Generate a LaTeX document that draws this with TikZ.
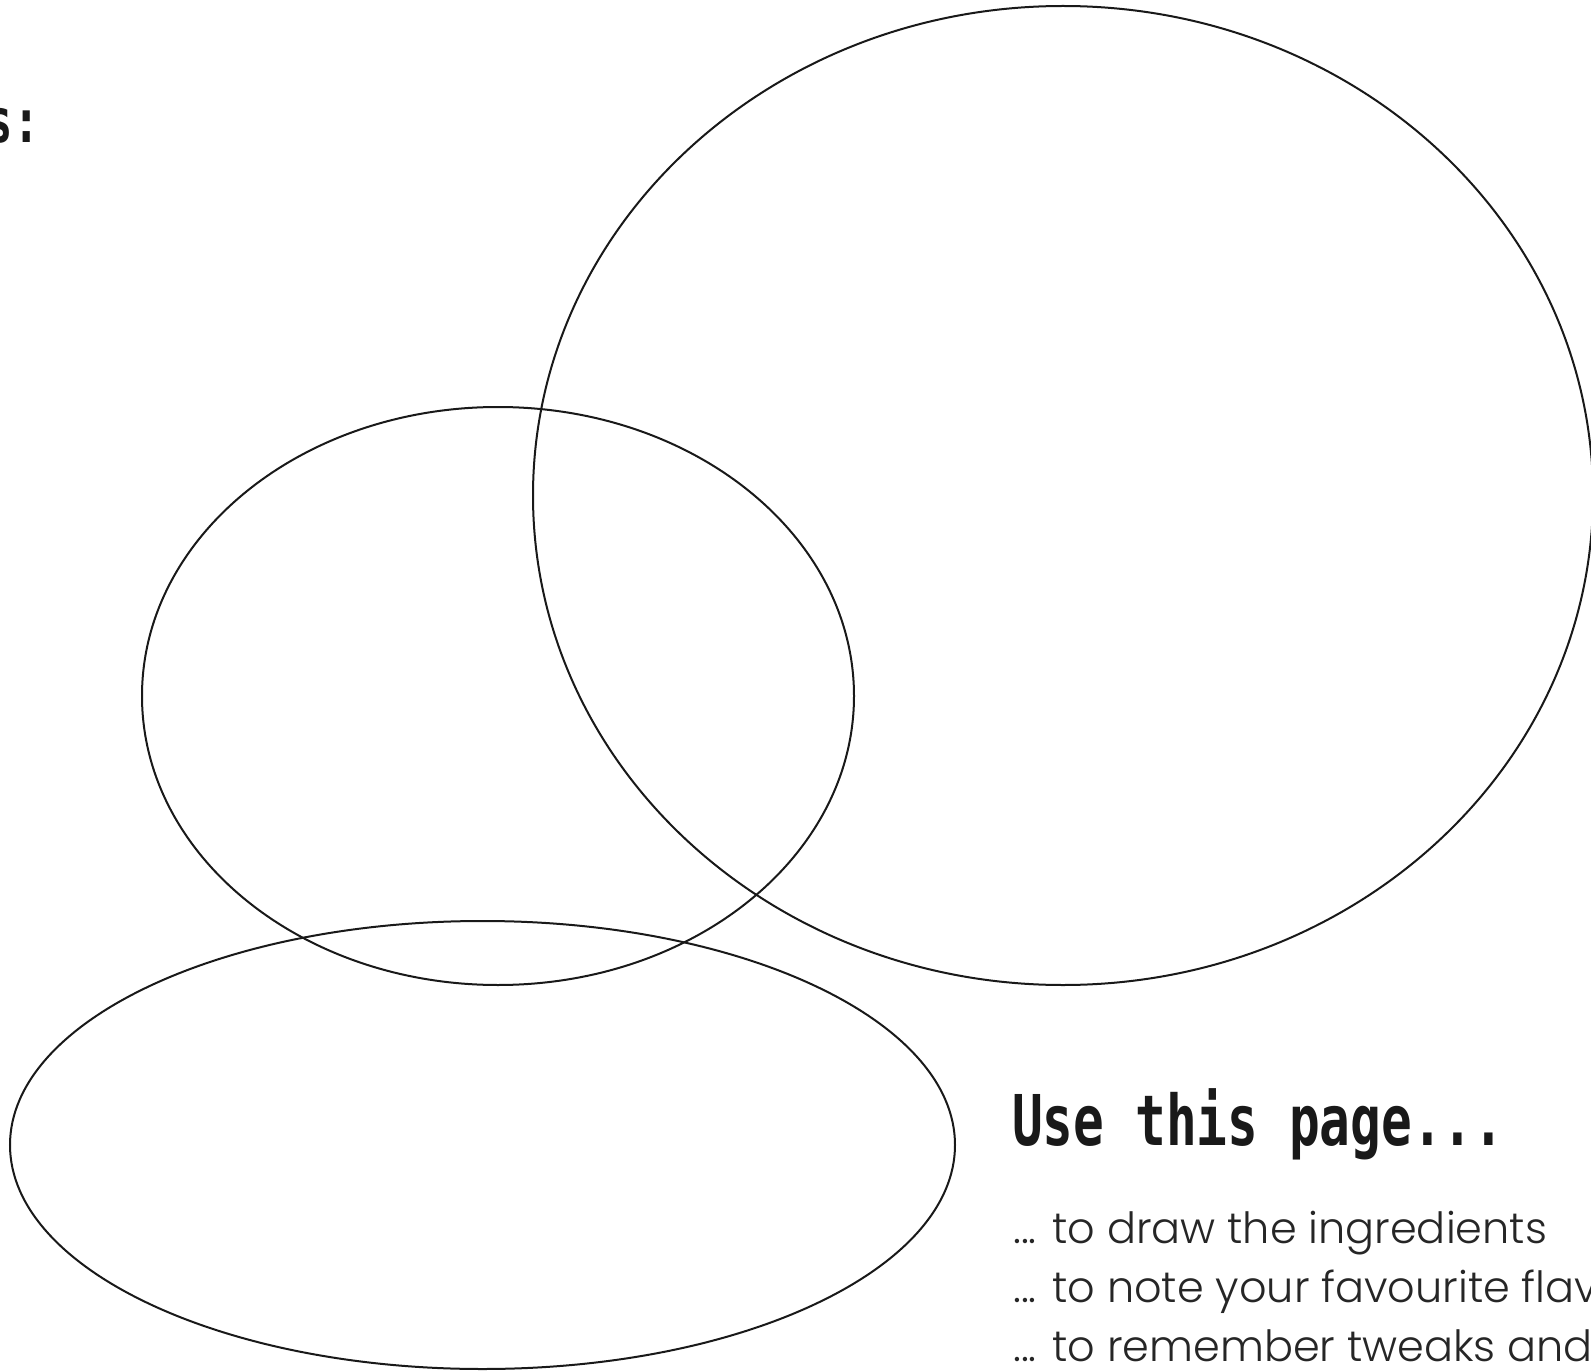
\documentclass[tikz,border=0pt]{standalone}
\usepackage{fontspec}
\setmainfont{Poppins}[UprightFont={* Light}]
\newfontfamily\headfont{DejaVu Sans Mono}[UprightFont={* Bold}]
\begin{document}
\begin{tikzpicture}[x=1pt,y=-1pt,
  ring/.style={draw=black!90, line width=2pt},
  head/.style={font=\headfont\fontsize{70}{70}\selectfont, inner sep=0pt, anchor=base west, text=black!90},
  body/.style={font=\fontsize{43}{43}\selectfont, inner sep=0pt, anchor=base west, text=black!85}]
\useasboundingbox (0,0) rectangle (1591,1372);
\draw[ring] (1063,495.5) ellipse [x radius=530, y radius=489.5];
\draw[ring] (498,696) ellipse [x radius=356, y radius=289];
\draw[ring] (482.5,1145) ellipse [x radius=472.5, y radius=224];
\node[head, anchor=base east, font=\headfont\fontsize{61}{61}\selectfont] (notes) at (40,143) {\scalebox{0.72}[1]{s:}};
\node[head] (title) at (1012,1145) {\scalebox{0.73}[1]{Use this page...}};
\node[body] (l1) at (1013,1243) {... to draw the ingredients};
\node[body] (l2) at (1013,1302) {... to note your favourite flav};
\node[body] (l3) at (1013,1361) {... to remember tweaks and};
\end{tikzpicture}
\end{document}
